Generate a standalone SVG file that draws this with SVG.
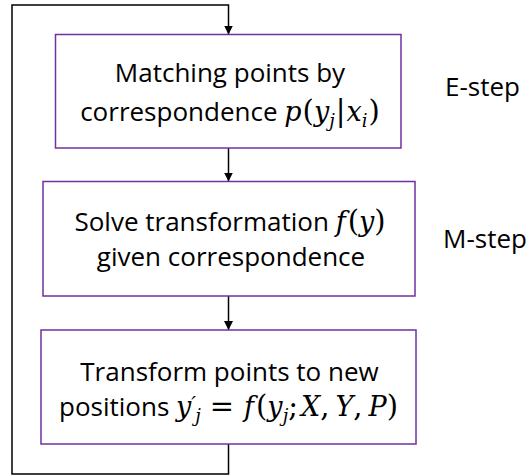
<svg xmlns="http://www.w3.org/2000/svg" width="528" height="476" viewBox="0 0 528 476">
  <style>
    .box { fill: #ffffff; stroke: #7030A0; stroke-width: 1.5; }
    .wire { fill: none; stroke: #000000; stroke-width: 1.5; }
    .lbl { font-family: "Open Sans", "Noto Sans", sans-serif; font-size: 26px; fill: #000000; }
    .m { font-family: "DejaVu Serif", "Liberation Serif", serif; font-style: italic; font-size: 27px; }
    .mr { font-family: "DejaVu Serif", "Liberation Serif", serif; font-style: normal; font-size: 29px; }
    .sub { font-family: "DejaVu Serif", "Liberation Serif", serif; font-style: italic; font-size: 18px; }
  </style>
  <defs>
    <marker id="arrow" markerUnits="userSpaceOnUse" markerWidth="9" markerHeight="9" refX="9" refY="4.5" orient="auto">
      <path d="M0,0 L9,4.5 L0,9 z" fill="#000000"/>
    </marker>
  </defs>

  <!-- connectors: the iteration loop and the step-to-step arrows -->
  <g id="connectors">
    <path class="wire" d="M228.5 444 V474 H12 V5 H228.5 V34.5" marker-end="url(#arrow)"/>
    <path class="wire" d="M228.5 148 V181.5" marker-end="url(#arrow)"/>
    <path class="wire" d="M228.5 296 V330" marker-end="url(#arrow)"/>
  </g>

  <!-- expectation step -->
  <g id="node-match">
    <rect class="box" x="55.5" y="34.5" width="345.5" height="113.5"/>
    <text class="lbl" x="230" y="82" text-anchor="middle">Matching points by</text>
    <text class="lbl" x="230" y="121" text-anchor="middle">correspondence <tspan class="m">p</tspan><tspan class="mr" dx="1">(</tspan><tspan class="m">y</tspan><tspan class="sub" dy="6">j</tspan><tspan class="mr" dx="1" dy="-6">|</tspan><tspan class="m" dx="1">x</tspan><tspan class="sub" dy="6">i</tspan><tspan class="mr" dx="1" dy="-6">)</tspan></text>
  </g>

  <!-- maximisation step -->
  <g id="node-solve">
    <rect class="box" x="43" y="181.5" width="372" height="114.5"/>
    <text class="lbl" x="230" y="231" text-anchor="middle">Solve transformation <tspan class="m">f</tspan><tspan class="mr" dx="2">(</tspan><tspan class="m">y</tspan><tspan class="mr">)</tspan></text>
    <text class="lbl" x="231" y="266" text-anchor="middle">given correspondence</text>
  </g>

  <!-- update step -->
  <g id="node-transform">
    <rect class="box" x="41" y="330" width="375" height="114"/>
    <text class="lbl" x="229.5" y="381" text-anchor="middle">Transform points to new</text>
    <text class="lbl" x="59" y="416">positions <tspan class="m">y</tspan><tspan class="sub" dy="-5" style="font-size:21px">′</tspan><tspan class="sub" dx="-1" dy="11">j</tspan><tspan class="mr" dx="9" dy="-6">=</tspan><tspan class="m" dx="10">f</tspan><tspan class="mr" dx="2">(</tspan><tspan class="m">y</tspan><tspan class="sub" dy="6">j</tspan><tspan class="mr" dy="-6">;</tspan><tspan class="m" dx="3">X</tspan><tspan class="mr">,</tspan><tspan class="m" dx="6">Y</tspan><tspan class="mr">,</tspan><tspan class="m" dx="6">P</tspan><tspan class="mr">)</tspan></text>
  </g>

  <!-- step labels -->
  <g id="label-e">
    <text class="lbl" x="445" y="96">E-step</text>
  </g>
  <g id="label-m">
    <text class="lbl" x="443" y="248">M-step</text>
  </g>
</svg>
